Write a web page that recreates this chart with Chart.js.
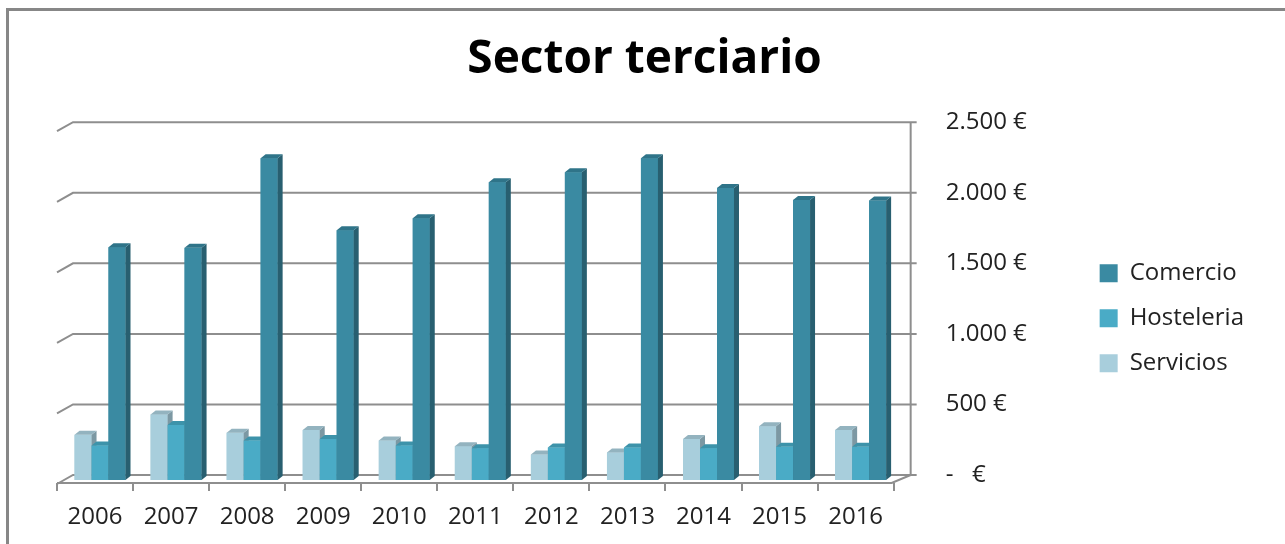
<!DOCTYPE html>
<html>
<head>
<meta charset="utf-8">
<title>Sector terciario</title>
<script src="https://cdn.jsdelivr.net/npm/chart.js@4.4.0/dist/chart.umd.min.js"></script>
<style>
  html, body { margin: 0; padding: 0; background: #fff; }
</style>
</head>
<body>
<canvas id="my-chart" width="1285" height="544"></canvas>
<script>
'use strict';

// Data
let years = ['2006', '2007', '2008', '2009', '2010', '2011', '2012', '2013', '2014', '2015', '2016'];
let servicios = [320, 465, 335, 355, 280, 240, 180, 195, 290, 380, 355];
let hosteleria = [245, 390, 280, 290, 245, 225, 230, 230, 225, 235, 235];
let comercio = [1650, 1645, 2280, 1770, 1855, 2110, 2180, 2280, 2070, 1985, 1980];
let yTicks = [0, 500, 1000, 1500, 2000, 2500];
let yTickLabels = ['-   €', '500 €', '1.000 €', '1.500 €', '2.000 €', '2.500 €'];

let fontFamily = '"Open Sans", "DejaVu Sans", sans-serif';
let gridColor = '#8e8e8e';

// white background + grey frame
let framePlugin = {
  id: 'frame',
  beforeDraw(chart) {
    let ctx = chart.ctx;
    ctx.save();
    ctx.fillStyle = '#fff';
    ctx.fillRect(0, 0, chart.width, chart.height);
    ctx.strokeStyle = '#878787';
    ctx.lineWidth = 3;
    ctx.beginPath();
    ctx.moveTo(7.5, chart.height);
    ctx.lineTo(7.5, 9.5);
    ctx.lineTo(chart.width, 9.5);
    ctx.stroke();
    ctx.restore();
  }
};

// back wall, floor and category ticks (fake 3d)
let wallsPlugin = {
  id: 'walls',
  beforeDatasetsDraw(chart) {
    let ctx = chart.ctx;
    let x = chart.scales.x;
    let y = chart.scales.y;
    let a = chart.chartArea;
    let y0 = y.getPixelForValue(0);
    ctx.save();
    ctx.strokeStyle = gridColor;
    ctx.lineWidth = 2;
    yTicks.forEach(function (v) {
      let py = y.getPixelForValue(v) - 5;
      ctx.beginPath();
      ctx.moveTo(a.left - 5, py + 9);
      ctx.lineTo(a.left + 11, py);
      ctx.lineTo(a.right + 18, py);
      ctx.stroke();
    });
    ctx.beginPath();
    ctx.moveTo(a.right + 12, y.getPixelForValue(2500) - 5);
    ctx.lineTo(a.right + 12, y0 - 5);
    ctx.stroke();
    // floor front edge
    ctx.beginPath();
    ctx.moveTo(a.left - 5, y0 + 3);
    ctx.lineTo(a.right - 7, y0 + 3);
    ctx.lineTo(a.right + 12, y0 - 5);
    ctx.stroke();
    for (let i = 0; i <= years.length; i++) {
      let px = Math.round(x.getPixelForValue(i - 0.5) - 5);
      ctx.beginPath();
      ctx.moveTo(px, y0 + 3);
      ctx.lineTo(px, y0 + 11);
      ctx.stroke();
    }
    ctx.restore();
  }
};

// side and top faces of the columns
let bars3dPlugin = {
  id: 'bars3d',
  afterDatasetsDraw(chart) {
    let ctx = chart.ctx;
    let dx = 5;
    let dy = 4;
    ctx.save();
    chart.data.datasets.forEach(function (ds, i) {
      let meta = chart.getDatasetMeta(i);
      meta.data.forEach(function (bar) {
        let p = bar.getProps(['x', 'y', 'base', 'width'], true);
        let l = p.x - p.width / 2;
        let r = p.x + p.width / 2;
        ctx.fillStyle = ds.backgroundColor;
        ctx.fillRect(l, p.y, p.width, p.base - p.y);
        ctx.fillStyle = ds.sideColor;
        ctx.beginPath();
        ctx.moveTo(r, p.y);
        ctx.lineTo(r + dx, p.y - dy);
        ctx.lineTo(r + dx, p.base - dy);
        ctx.lineTo(r, p.base);
        ctx.closePath();
        ctx.fill();
        ctx.fillStyle = ds.topColor;
        ctx.beginPath();
        ctx.moveTo(l, p.y);
        ctx.lineTo(l + dx, p.y - dy);
        ctx.lineTo(r + dx, p.y - dy);
        ctx.lineTo(r, p.y);
        ctx.closePath();
        ctx.fill();
      });
    });
    ctx.restore();
  }
};

let canvasElem = document.getElementById('my-chart');

let myObj = {
  type: 'bar',
  data: {
    labels: years,
    datasets: [
      {
        label: 'Servicios',
        data: servicios,
        backgroundColor: '#a8cedc',
        sideColor: '#7c98a3',
        topColor: '#93b3bf',
        borderWidth: 0
      },
      {
        label: 'Hosteleria',
        data: hosteleria,
        backgroundColor: '#4aabc6',
        sideColor: '#33778b',
        topColor: '#3d93aa',
        borderWidth: 0
      },
      {
        label: 'Comercio',
        data: comercio,
        backgroundColor: '#3a8aa2',
        sideColor: '#285f70',
        topColor: '#2f7489',
        borderWidth: 0
      }
    ]
  },
  options: {
    responsive: false,
    animation: false,
    devicePixelRatio: 1,
    categoryPercentage: 0.67,
    barPercentage: 1,
    layout: {
      padding: { left: 35, right: 31, top: 0, bottom: 0 }
    },
    plugins: {
      title: {
        display: true,
        text: 'Sector terciario',
        color: '#000',
        font: { family: fontFamily, size: 46, weight: 'bold' },
        padding: { top: 32, bottom: 40 }
      },
      legend: {
        position: 'right',
        reverse: true,
        title: {
          display: true,
          text: ' ',
          font: { size: 2 },
          padding: { top: 90, bottom: 0 }
        },
        labels: {
          boxWidth: 18,
          boxHeight: 18,
          padding: 21,
          color: '#222',
          font: { family: fontFamily, size: 24 }
        }
      },
      tooltip: { enabled: false }
    },
    scales: {
      x: {
        offset: true,
        grid: { display: false, drawTicks: false },
        border: { display: false },
        ticks: {
          padding: 23,
          labelOffset: -5,
          maxRotation: 0,
          autoSkip: false,
          color: '#222',
          font: { family: fontFamily, size: 24 }
        },
        afterFit: function (s) { s.height = 64; }
      },
      // empty spacer on the left so the title stays centred
      spacer: {
        type: 'linear',
        position: 'left',
        grid: { display: false, drawTicks: false },
        border: { display: false },
        ticks: { display: false },
        afterFit: function (s) { s.width = 27; }
      },
      y: {
        position: 'right',
        min: 0,
        max: 2500,
        grid: { display: false, drawTicks: false },
        border: { display: false },
        afterBuildTicks: function (s) {
          s.ticks = yTicks.map(function (v) { return { value: v }; });
        },
        ticks: {
          padding: 47,
          labelOffset: -5,
          color: '#222',
          font: { family: fontFamily, size: 24 },
          callback: function (v, i) { return yTickLabels[i]; }
        },
        afterFit: function (s) { s.width = 180; }
      }
    }
  },
  plugins: [framePlugin, wallsPlugin, bars3dPlugin]
};

new Chart(canvasElem, myObj);
</script>
</body>
</html>
